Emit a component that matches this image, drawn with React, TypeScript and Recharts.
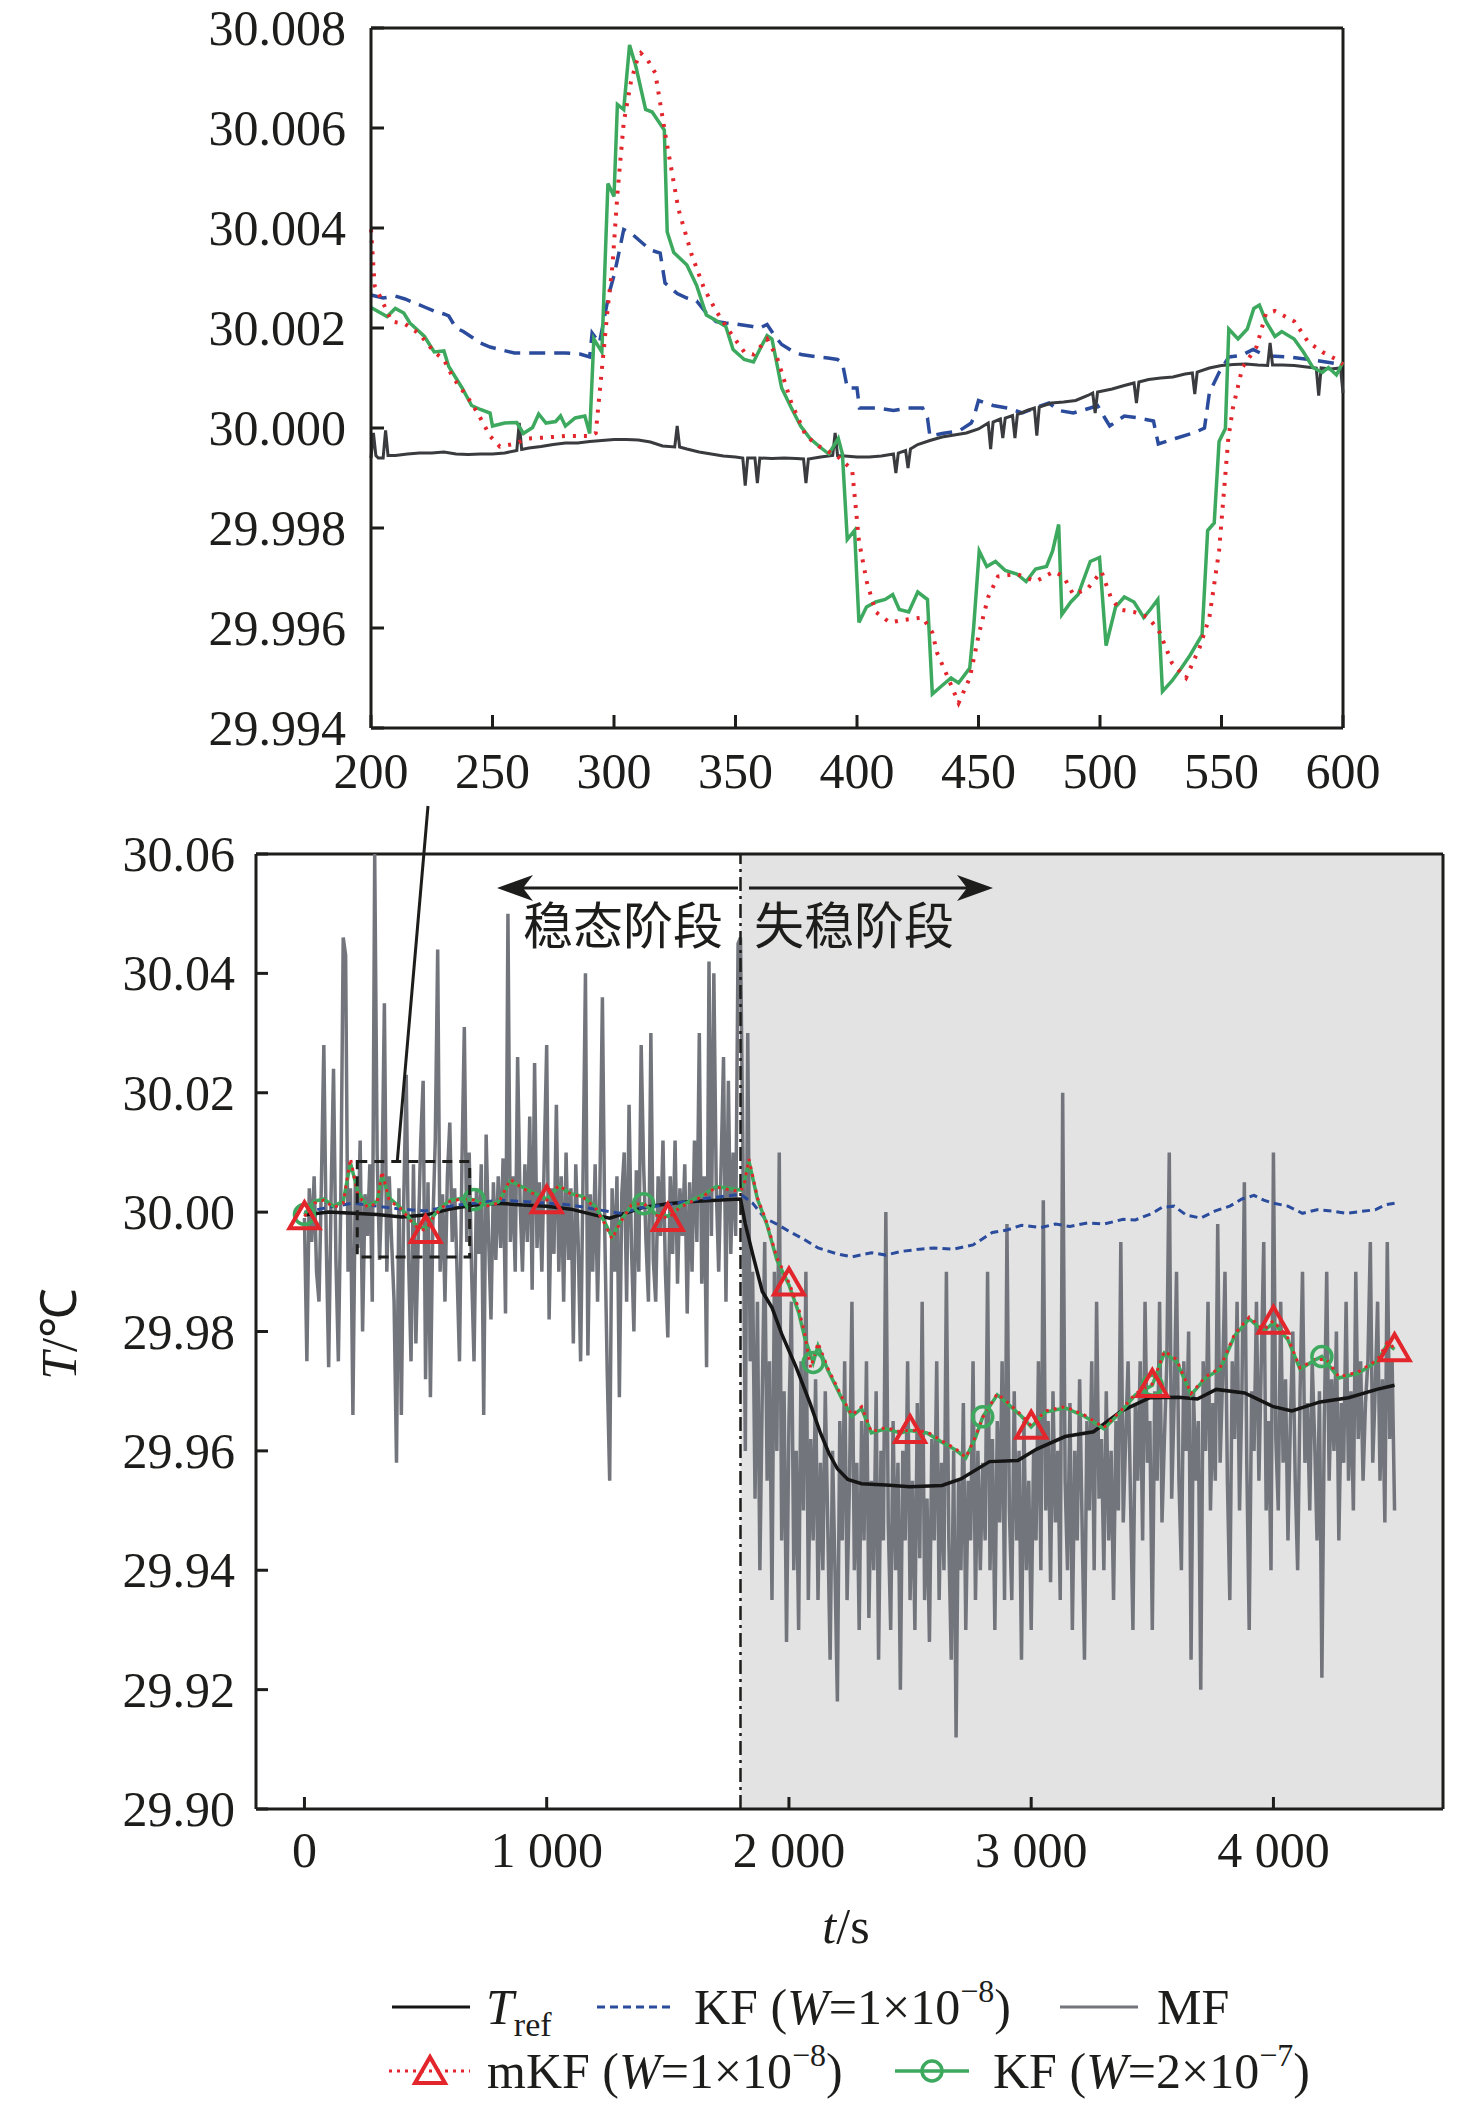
import React from "react";
import { ComposedChart, Line, XAxis, YAxis, ReferenceLine, ReferenceArea } from "recharts";

const SERIF = '"Liberation Serif", "Times New Roman", serif';
const CJK = '"Noto Sans CJK SC", sans-serif';
const INK = "#1d1d1b";
const RED = "#e2262c";
const GREEN = "#3da95e";
const BLUE = "#2b4c9c";
const GRAY = "#72757c";

// ---------- inset: 200–600 s ----------
const insetTicksX = [200, 250, 300, 350, 400, 450, 500, 550, 600];
const insetTicksY = [29.994, 29.996, 29.998, 30.0, 30.002, 30.004, 30.006, 30.008];

const insetTref: [number, number][] = [
  [200, 29.9994], [201, 29.9999], [202, 29.99945], [203, 29.9994], [205, 29.9994], [206, 29.99995],
  [207, 29.99945], [210, 29.99945], [215, 29.99948], [220, 29.9995], [225, 29.9995], [230, 29.99952],
  [235, 29.99948], [240, 29.99947], [245, 29.99948], [250, 29.99948], [255, 29.9995], [260, 29.99955],
  [261, 30.0001], [262, 29.99957], [265, 29.9996], [270, 29.99963], [275, 29.99967], [280, 29.9997],
  [285, 29.9997], [290, 29.99973], [295, 29.99975], [300, 29.99977], [305, 29.99977], [310, 29.99976],
  [315, 29.99972], [320, 29.99964], [325, 29.99962], [326, 30.00004], [327, 29.99962], [330, 29.99958],
  [335, 29.99952], [340, 29.99948], [345, 29.99944], [350, 29.99942], [353, 29.9994], [354, 29.99885],
  [355, 29.9994], [358, 29.9994], [359, 29.9989], [360, 29.9994], [365, 29.99939], [370, 29.9994],
  [375, 29.99939], [378, 29.99938], [379, 29.9989], [380, 29.99938], [385, 29.99942], [390, 29.99945],
  [391, 29.9999], [392, 29.99945], [395, 29.99944], [400, 29.99942], [405, 29.99942], [410, 29.99944],
  [415, 29.99948], [416, 29.9991], [417, 29.9995], [420, 29.99955], [421, 29.9992], [422, 29.99958],
  [425, 29.99967], [430, 29.99975], [435, 29.99982], [440, 29.99986], [445, 29.9999], [450, 29.99998],
  [454, 30.0001], [455, 29.99958], [456, 30.00012], [459, 30.00018], [460, 29.9998], [461, 30.0002],
  [464, 30.00025], [465, 29.9998], [466, 30.00027], [470, 30.00035], [473, 30.0004], [474, 29.99985],
  [475, 30.00042], [480, 30.0005], [485, 30.00052], [490, 30.00055], [495, 30.00065], [497, 30.0007],
  [498, 30.0003], [499, 30.00072], [505, 30.00078], [510, 30.00085], [514, 30.0009], [515, 30.0005],
  [516, 30.00092], [520, 30.00097], [525, 30.001], [530, 30.00102], [535, 30.00108], [538, 30.0011],
  [539, 30.00068], [540, 30.00112], [545, 30.0012], [550, 30.00125], [555, 30.00127], [560, 30.00128],
  [565, 30.00126], [569, 30.00125], [570, 30.0017], [571, 30.00126], [575, 30.00126], [580, 30.00125],
  [585, 30.00122], [589, 30.0012], [590, 30.00065], [591, 30.0012], [595, 30.00118], [599, 30.0012],
  [600, 30.0007],
];

const insetKf: [number, number][] = [
  [200, 30.00266], [205, 30.0026], [210, 30.00264], [214, 30.00258], [218, 30.0025], [222, 30.00242],
  [226, 30.00234], [230, 30.00228], [232, 30.00224], [235, 30.002], [238, 30.00193], [242, 30.0018],
  [245, 30.0017], [249, 30.00162], [253, 30.00157], [259, 30.0015], [265, 30.0015], [272, 30.0015],
  [280, 30.0015], [286, 30.00148], [290, 30.00142], [291, 30.0019], [294, 30.0017], [296, 30.0022],
  [298, 30.0027], [300, 30.00305], [302, 30.0035], [304, 30.00397], [307, 30.0039], [310, 30.00377],
  [315, 30.00356], [319, 30.0035], [321, 30.0029], [326, 30.00269], [330, 30.0026], [334, 30.00254],
  [338, 30.0023], [342, 30.00213], [346, 30.0021], [350, 30.00208], [357, 30.00203], [360, 30.002],
  [363, 30.00207], [366, 30.00185], [369, 30.00167], [373, 30.00155], [377, 30.00147], [384, 30.00142],
  [388, 30.0014], [392, 30.00137], [394, 30.0013], [396, 30.0008], [400, 30.0008], [401, 30.0004],
  [408, 30.0004], [415, 30.00035], [421, 30.0004], [427, 30.0004], [429, 30.0002], [430, 29.99984],
  [435, 29.99989], [442, 29.99994], [447, 30.0001], [448, 30.0002], [450, 30.00055], [456, 30.00045],
  [462, 30.0004], [468, 30.0003], [473, 30.0004], [479, 30.0005], [483, 30.00035], [489, 30.0003],
  [496, 30.0004], [499, 30.00045], [502, 30.0002], [504, 30.00004], [510, 30.00024], [516, 30.0002],
  [522, 30.00014], [524, 29.99968], [531, 29.99979], [539, 29.99991], [543, 30.0], [545, 30.0007],
  [549, 30.00111], [553, 30.00142], [558, 30.00145], [563, 30.00157], [566, 30.0015], [570, 30.00144],
  [578, 30.00142], [586, 30.00137], [593, 30.00132], [600, 30.00127],
];

const insetKf2: [number, number][] = [
  [200, 30.00241], [206.6, 30.00223], [210, 30.00239], [213.5, 30.0023], [216, 30.0021], [222, 30.00183],
  [226, 30.00152], [230, 30.00154], [232, 30.00123], [237.5, 30.0008], [241.4, 30.00045], [245, 30.00037],
  [249, 30.0003], [250, 30.00004], [255, 30.0001], [260, 30.00011], [262.7, 29.99989], [266.5, 30.00001],
  [269, 30.00028], [272, 30.0001], [276, 30.00013], [278, 30.00024], [280, 30.00004], [284, 30.0002],
  [288, 30.00024], [290, 29.99989], [291.7, 30.00178], [295, 30.00152], [297.5, 30.00489], [300, 30.00463],
  [301.4, 30.00647], [304, 30.00637], [306.4, 30.00766], [309, 30.00723], [313, 30.00637], [315.7, 30.00632],
  [320.7, 30.00596], [321.9, 30.00392], [324.6, 30.00351], [330, 30.00326], [334, 30.00285], [338, 30.00226],
  [342, 30.00215], [346, 30.00203], [349, 30.00157], [353.6, 30.00137], [357.4, 30.00132], [360.5, 30.00162],
  [363, 30.00185], [365, 30.00178], [369, 30.0008], [373, 30.0004], [376.8, 30.00004], [380.7, 29.99979],
  [384.5, 29.99963], [388.4, 29.99948], [392.3, 29.99979], [394, 29.99948], [396, 29.99777], [399, 29.99795],
  [400.8, 29.99611], [403.9, 29.99642], [407.7, 29.99652], [411.6, 29.99657], [414.7, 29.99667], [417.4, 29.99637],
  [421.3, 29.99632], [425, 29.99672], [429, 29.99657], [431, 29.99468], [434.8, 29.99484], [438.7, 29.995],
  [441.8, 29.9949], [446.4, 29.9952], [448, 29.99601], [450.3, 29.99754], [453.4, 29.99723], [457, 29.99733],
  [461, 29.99715], [465.8, 29.99708], [469.6, 29.99693], [473.5, 29.99718], [478, 29.99723], [480.5, 29.99754],
  [483, 29.99807], [484.3, 29.99627], [488, 29.99652], [491, 29.99667], [496, 29.99733], [499.8, 29.99741],
  [502.5, 29.99565], [506.4, 29.99642], [510, 29.99662], [514, 29.99652], [518, 29.99621], [520.7, 29.99637],
  [523.8, 29.99657], [525.7, 29.99473], [529.6, 29.99494], [533.5, 29.9952], [537, 29.99545], [542, 29.99586],
  [544.3, 29.99795], [547, 29.9981], [549, 29.99973], [551.6, 29.99999], [553, 30.00198], [556.8, 30.00178],
  [560.6, 30.00198], [563.3, 30.00239], [565.6, 30.00246], [568.3, 30.00213], [572, 30.00183], [574.8, 30.00193],
  [579.9, 30.00178], [583.7, 30.00152], [587.6, 30.00121], [591.5, 30.00111], [594, 30.00121], [597.3, 30.00106],
  [600, 30.00132],
];

const insetMkf: [number, number][] = [
  [200, 30.00397], [201.5, 30.00285], [204.6, 30.00254], [208.5, 30.00213], [214, 30.00208], [220, 30.00188],
  [226, 30.00152], [230, 30.00137], [233.7, 30.00101], [237.5, 30.00076], [241.4, 30.0005], [245, 30.0002],
  [249, 29.99984], [253, 29.99963], [258.8, 29.99968], [264.6, 29.99979], [272, 29.99981], [280, 29.99984],
  [287.8, 29.99984], [290, 29.99984], [292.5, 29.9999], [295.5, 30.00142], [297.5, 30.00244], [299.4, 30.00326],
  [301.4, 30.00468], [304, 30.00611], [307, 30.00693], [310, 30.00744], [311, 30.0075], [314, 30.00735],
  [317, 30.0071], [321, 30.0059], [326.5, 30.00438], [332, 30.00346], [337, 30.0028], [342, 30.00234],
  [348, 30.0019], [353.6, 30.00152], [357.4, 30.00147], [363, 30.00178], [367, 30.00142], [373, 30.0005],
  [379, 29.99984], [384.5, 29.99963], [392, 29.99943], [398, 29.99917], [400.8, 29.99774], [404, 29.99693],
  [407.7, 29.99632], [413.5, 29.99611], [419, 29.99616], [427, 29.99621], [431, 29.99591], [433, 29.9955],
  [436.7, 29.99509], [441.8, 29.9945], [446.4, 29.995], [450.3, 29.99591], [454, 29.99662], [458, 29.99703],
  [465.8, 29.99708], [473.5, 29.99693], [481, 29.99713], [485, 29.99703], [489, 29.99667], [494.8, 29.99678],
  [500.6, 29.99713], [504.4, 29.99662], [508, 29.99637], [514, 29.99632], [520, 29.99621], [524.6, 29.99591],
  [529.6, 29.9953], [535.4, 29.995], [541, 29.99561], [545, 29.99621], [549, 29.99754], [552.8, 29.99979],
  [554.7, 30.0004], [558.6, 30.00121], [564.4, 30.00162], [568.3, 30.00229], [572, 30.00234], [580, 30.00213],
  [585.7, 30.00172], [591.5, 30.00152], [597.3, 30.00137], [600, 30.00127],
];

// ---------- main chart: 0–4500 s ----------
const mainTicksX = [0, 1000, 2000, 3000, 4000];
const mainTicksY = [29.9, 29.92, 29.94, 29.96, 29.98, 30.0, 30.02, 30.04, 30.06];
const mainTickLabels = ["0", "1 000", "2 000", "3 000", "4 000"];
const mainDomainX = [-200, 4700];
const mainDomainY = [29.9, 30.06];
// zoom box drawn on the main chart (s, °C)
const zoomBox = { t1: 218, t2: 682, v1: 29.9925, v2: 30.0085 };

// MF, one value every 10 s from 0 to 4500 s
const mfStep = 10;
const mfValues = [
  29.999, 29.975, 30.004, 29.995, 30.006, 29.99, 29.985, 30.005, 30.028, 29.995,
  29.974, 30.003, 30.024, 29.992, 29.975, 30.002, 30.046, 30.043, 29.99, 30.004,
  29.966, 30.005, 29.994, 30.012, 29.98, 30.003, 29.996, 30.008, 29.985, 30.06,
  30.01, 29.992, 30.004, 30.035, 29.99, 30.006, 29.995, 29.985, 29.958, 30.004,
  29.966, 30.002, 30.023, 29.992, 29.975, 30.008, 29.978, 29.996, 30.012, 30.022,
  29.972, 30.005, 29.969, 29.998, 30.012, 30.044, 29.99, 30.003, 29.985, 30.006,
  30.015, 29.995, 30.004, 29.99, 29.975, 30.008, 30.031, 29.995, 30.01, 29.99,
  29.975, 30.004, 29.993, 30.008, 29.966, 30.013, 29.996, 29.982, 30.005, 29.992,
  30.006, 29.994, 30.009, 29.983, 30.05, 29.995, 30.006, 29.99, 30.026, 30.002,
  29.99, 30.008, 29.995, 30.016, 29.987, 30.025, 29.994, 30.005, 29.99, 30.009,
  30.028, 29.982, 30.004, 29.993, 30.018, 29.99, 30.006, 29.985, 30.01, 29.992,
  30.004, 29.978, 30.008, 29.995, 29.975, 30.006, 30.04, 29.976, 30.003, 29.99,
  30.008, 29.985, 30.005, 30.036, 29.996, 29.973, 29.955, 30.004, 29.99, 30.006,
  29.969, 30.003, 30.01, 29.985, 30.018, 29.994, 29.98, 30.007, 29.99, 30.028,
  30.008, 29.995, 29.985, 30.03, 29.992, 29.985, 30.006, 29.996, 30.012, 29.99,
  29.979, 30.006, 29.993, 30.012, 29.988, 30.004, 29.996, 30.008, 29.983, 30.005,
  29.99, 30.012, 29.995, 30.03, 29.988, 30.006, 29.974, 30.042, 29.996, 30.04,
  30.004, 29.99, 30.008, 30.026, 29.985, 30.022, 29.993, 30.01, 29.996, 30.045,
  30.046,
  30.01, 29.96, 30.03, 29.975, 29.99, 29.952, 29.985, 29.94, 29.97, 29.995,
  29.955, 29.975, 29.935, 29.99, 29.96, 30.01, 29.945, 29.97, 29.928, 29.965,
  29.985, 29.94, 29.96, 29.93, 29.975, 29.95, 29.99, 29.935, 29.962, 29.945,
  29.972, 29.935, 29.958, 29.94, 29.97, 29.948, 29.925, 29.96, 29.94, 29.918,
  29.965, 29.945, 29.975, 29.935, 29.955, 29.985, 29.94, 29.958, 29.93, 29.965,
  29.945, 29.975, 29.932, 29.955, 29.94, 29.97, 29.925, 29.96, 29.945, 30.0,
  29.948, 29.93, 29.965, 29.94, 29.958, 29.92, 29.96, 29.945, 29.975, 29.935,
  29.955, 29.93, 29.968, 29.942, 29.985, 29.935, 29.952, 29.928, 29.962, 29.945,
  29.975, 29.935, 29.958, 29.94, 29.99, 29.945, 29.925, 29.96, 29.912, 29.955,
  29.94, 29.968, 29.93, 29.955, 29.945, 29.975, 29.935, 29.96, 29.94, 29.958,
  29.945, 29.99, 29.94, 29.962, 29.93, 29.965, 29.948, 29.975, 29.935, 29.998,
  29.95, 29.935, 29.97, 29.945, 29.96, 29.925, 29.965, 29.94, 29.955, 29.93,
  29.96, 29.945, 29.975, 29.94, 30.002, 29.95, 29.965, 29.938, 29.97, 29.948,
  29.96, 29.935, 30.02, 29.955, 29.94, 29.968, 29.93, 29.96, 29.945, 29.972,
  29.948, 29.925, 29.965, 29.95, 29.975, 29.94, 29.985, 29.952, 29.962, 29.94,
  29.97, 29.945, 29.96, 29.935, 29.965, 29.95, 29.995, 29.948, 29.962, 29.975,
  29.952, 29.93, 29.968, 29.955, 29.975, 29.945, 29.985, 29.958, 29.965, 29.93,
  29.97, 29.955, 29.985, 29.948, 29.962, 29.975, 30.01, 29.952, 29.968, 29.99,
  29.955, 29.94, 29.975, 29.96, 29.98, 29.925, 29.97, 29.955, 29.965, 29.92,
  29.975, 29.96, 29.985, 29.95, 29.968, 29.955, 29.998, 29.958, 29.972, 29.99,
  29.955, 29.935, 29.975, 29.962, 29.985, 29.95, 29.97, 30.005, 29.958, 29.93,
  29.97, 29.96, 29.985, 29.955, 29.975, 29.995, 29.95, 29.965, 29.94, 30.01,
  29.962, 29.95, 29.985, 29.958, 29.972, 29.945, 29.965, 29.98, 29.955, 29.94,
  29.97, 29.99, 29.958, 29.968, 29.95, 29.975, 29.962, 29.945, 29.97, 29.922,
  29.965, 29.99, 29.955, 29.972, 29.96, 29.98, 29.945, 29.968, 29.958, 29.985,
  29.955, 29.97, 29.95, 29.99, 29.962, 29.975, 29.955, 29.968, 29.975, 29.995,
  29.958, 29.97, 29.985, 29.955, 29.972, 29.948, 29.995, 29.962, 29.975, 29.95,
];

const mainTref: [number, number][] = [
  [0, 29.9995], [100, 30.0], [200, 29.9998], [300, 29.9996], [400, 29.9992], [500, 29.9995],
  [600, 30.0005], [700, 30.0012], [800, 30.0015], [900, 30.0012], [1000, 30.001], [1100, 30.0005],
  [1200, 29.9995], [1260, 29.999], [1300, 29.9995], [1400, 30.0008], [1500, 30.0014], [1600, 30.0018],
  [1700, 30.002], [1800, 30.0022], [1820, 29.998], [1850, 29.993], [1890, 29.9867], [1930, 29.984],
  [1970, 29.9796], [2030, 29.974], [2087, 29.968], [2130, 29.963], [2165, 29.9596], [2200, 29.957],
  [2243, 29.9552], [2300, 29.9545], [2400, 29.9543], [2500, 29.954], [2632, 29.9542], [2710, 29.9553],
  [2828, 29.9582], [2945, 29.9584], [3023, 29.9603], [3140, 29.9624], [3257, 29.9632], [3374, 29.9667],
  [3490, 29.9689], [3608, 29.969], [3686, 29.9687], [3764, 29.9703], [3881, 29.9697], [4000, 29.9674],
  [4076, 29.9667], [4193, 29.9682], [4310, 29.9689], [4427, 29.9703], [4500, 29.971],
];

const mainKf: [number, number][] = [
  [0, 30.0], [100, 30.0008], [200, 30.0015], [300, 30.001], [400, 30.0005], [500, 30.0002],
  [600, 30.001], [700, 30.0015], [800, 30.002], [900, 30.0018], [1000, 30.0015], [1100, 30.0012],
  [1200, 30.0005], [1300, 29.9998], [1400, 30.0008], [1500, 30.0012], [1600, 30.002], [1700, 30.0025],
  [1800, 30.003], [1850, 30.0015], [1900, 29.999], [1950, 29.998], [2000, 29.9968], [2060, 29.9955],
  [2120, 29.994], [2200, 29.993], [2260, 29.9925], [2340, 29.9932], [2400, 29.9928], [2460, 29.9934],
  [2540, 29.9938], [2600, 29.994], [2680, 29.9938], [2760, 29.9945], [2840, 29.9966], [2900, 29.997],
  [2960, 29.9978], [3040, 29.9974], [3100, 29.998], [3160, 29.9976], [3235, 29.9982], [3300, 29.998],
  [3380, 29.9988], [3430, 29.9987], [3500, 29.9998], [3540, 30.0008], [3590, 30.001], [3640, 29.9995],
  [3700, 29.999], [3760, 30.0002], [3820, 30.001], [3870, 30.0022], [3920, 30.0028], [3960, 30.002],
  [4000, 30.0015], [4060, 30.001], [4120, 29.9998], [4180, 30.0004], [4240, 30.0002], [4300, 29.9998],
  [4360, 30.0001], [4420, 30.0004], [4460, 30.0012], [4500, 30.0015],
];

const mainMkf: [number, number][] = [
  [0, 29.9993], [40, 30.0015], [80, 30.002], [120, 30.0008], [160, 30.0015], [190, 30.009],
  [220, 30.003], [260, 30.0008], [300, 30.0015], [320, 30.0068], [350, 30.002], [400, 30.0005],
  [440, 29.9985], [470, 29.9972], [500, 29.997], [530, 29.999], [560, 30.0005], [600, 30.0018],
  [650, 30.0022], [700, 30.002], [750, 30.001], [800, 30.0015], [850, 30.0055], [900, 30.004],
  [950, 30.003], [1000, 30.002], [1050, 30.0045], [1100, 30.003], [1150, 30.0025], [1200, 30.0008],
  [1240, 29.998], [1270, 29.9955], [1300, 29.998], [1350, 30.0012], [1400, 30.0015], [1450, 29.9995],
  [1500, 29.999], [1550, 30.0008], [1600, 30.0018], [1650, 30.0028], [1700, 30.0042], [1750, 30.0038],
  [1800, 30.0035], [1815, 30.0046], [1835, 30.0089], [1870, 30.0024], [1910, 29.9981], [1950, 29.9924],
  [2000, 29.9882], [2040, 29.9839], [2065, 29.9796], [2090, 29.9739], [2120, 29.9781], [2160, 29.9739],
  [2220, 29.9689], [2260, 29.966], [2300, 29.9674], [2340, 29.9632], [2400, 29.9639], [2460, 29.9632],
  [2500, 29.9635], [2570, 29.9632], [2630, 29.9617], [2690, 29.9603], [2730, 29.9589], [2770, 29.9624],
  [2800, 29.9656], [2860, 29.9696], [2900, 29.9682], [2960, 29.966], [3000, 29.9642], [3060, 29.9667],
  [3140, 29.9674], [3220, 29.966], [3300, 29.9639], [3370, 29.9667], [3430, 29.9696], [3500, 29.9712],
  [3550, 29.9767], [3600, 29.9753], [3660, 29.9696], [3720, 29.9724], [3780, 29.9739], [3840, 29.9796],
  [3900, 29.9824], [3960, 29.9803], [4000, 29.9818], [4060, 29.9789], [4110, 29.9739], [4170, 29.9753],
  [4220, 29.9753], [4270, 29.9724], [4350, 29.9732], [4430, 29.9753], [4470, 29.9782], [4500, 29.9772],
];

const mainKf2: [number, number][] = [
  [0, 29.9996], [40, 30.0018], [80, 30.0022], [120, 30.001], [160, 30.0018], [190, 30.0082],
  [220, 30.0035], [260, 30.001], [300, 30.0018], [320, 30.0062], [350, 30.0024], [400, 30.0006],
  [440, 29.9987], [470, 29.9975], [500, 29.9973], [530, 29.9992], [560, 30.0007], [600, 30.002],
  [650, 30.0023], [700, 30.0021], [750, 30.0012], [800, 30.0017], [850, 30.0052], [900, 30.0042],
  [950, 30.0032], [1000, 30.0022], [1050, 30.0043], [1100, 30.0031], [1150, 30.0026], [1200, 30.001],
  [1240, 29.9983], [1270, 29.9958], [1300, 29.9982], [1350, 30.0012], [1400, 30.0014], [1450, 29.9997],
  [1500, 29.9993], [1550, 30.001], [1600, 30.002], [1650, 30.003], [1700, 30.0043], [1750, 30.004],
  [1800, 30.0037], [1815, 30.005], [1835, 30.0085], [1870, 30.0022], [1910, 29.9978], [1950, 29.992],
  [2000, 29.9878], [2040, 29.9832], [2065, 29.979], [2100, 29.9748], [2120, 29.9776], [2160, 29.9736],
  [2220, 29.9686], [2260, 29.9658], [2300, 29.9671], [2340, 29.963], [2400, 29.9637], [2460, 29.963],
  [2500, 29.9634], [2570, 29.963], [2630, 29.9615], [2690, 29.9601], [2730, 29.9588], [2770, 29.9622],
  [2800, 29.9657], [2860, 29.9694], [2900, 29.968], [2960, 29.9658], [3000, 29.964], [3060, 29.9665],
  [3140, 29.9672], [3220, 29.9658], [3300, 29.9637], [3370, 29.9665], [3430, 29.9694], [3500, 29.971],
  [3550, 29.9764], [3600, 29.975], [3660, 29.9694], [3720, 29.9722], [3780, 29.9737], [3840, 29.9793],
  [3900, 29.9821], [3960, 29.98], [4000, 29.9815], [4060, 29.9786], [4110, 29.9737], [4170, 29.9752],
  [4200, 29.9758], [4270, 29.9722], [4350, 29.973], [4430, 29.975], [4470, 29.9779], [4500, 29.977],
];

const triangleTimes = [0, 500, 1000, 1500, 2000, 2500, 3000, 3500, 4000, 4500];
const circleTimes = [0, 700, 1400, 2100, 2800, 3500, 4200];

const toRows = (pairs: [number, number][]) => pairs.map(([t, v]) => ({ t, v }));
const mfData = mfValues.map((v, i) => ({ t: i * mfStep, v }));

// main chart frame in page pixels (chart placed at top 780)
const MAIN_TOP = 780;
const mainMargin = { top: 74, right: 33, bottom: 111, left: 136 };
const Y_AXIS_W = 120;
const X_AXIS_H = 60;
const MAIN_W = 1476;
const MAIN_H = 1200;
const plotL = mainMargin.left + Y_AXIS_W;
const plotR = MAIN_W - mainMargin.right;
const plotT = MAIN_TOP + mainMargin.top;
const plotB = MAIN_TOP + MAIN_H - mainMargin.bottom - X_AXIS_H;
const sx = (t: number) => plotL + ((t - mainDomainX[0]) / (mainDomainX[1] - mainDomainX[0])) * (plotR - plotL);
const sy = (v: number) => plotB - ((v - mainDomainY[0]) / (mainDomainY[1] - mainDomainY[0])) * (plotB - plotT);

// inward ticks, labels outside
const makeXTick = (len: number, dy: number, fmt: (v: number) => string) => (props: any) => {
  const { x, y, payload, index } = props;
  return (
    <g key={`xt${index}`}>
      <line x1={x} y1={y} x2={x} y2={y - len} stroke={INK} strokeWidth={3} />
      <text x={x} y={y + dy} textAnchor="middle" fontFamily={SERIF} fontSize={50} fill={INK}>
        {fmt(payload.value)}
      </text>
    </g>
  );
};

const makeYTick = (len: number, gap: number, digits: number) => (props: any) => {
  const { x, y, payload, index } = props;
  return (
    <g key={`yt${index}`}>
      <line x1={x} y1={y} x2={x + len} y2={y} stroke={INK} strokeWidth={3} />
      <text x={x - gap} y={y + 17} textAnchor="end" fontFamily={SERIF} fontSize={50} fill={INK}>
        {Number(payload.value).toFixed(digits)}
      </text>
    </g>
  );
};

const triangleDot = (props: any) => {
  const { cx, cy, payload, index } = props;
  if (cx == null || !triangleTimes.includes(payload.t)) return <g key={`tri${index}`} />;
  return (
    <polygon
      key={`tri${index}`}
      points={`${cx},${cy - 14} ${cx + 15},${cy + 12} ${cx - 15},${cy + 12}`}
      fill="none"
      stroke={RED}
      strokeWidth={4}
    />
  );
};

const circleDot = (props: any) => {
  const { cx, cy, payload, index } = props;
  if (cx == null || !circleTimes.includes(payload.t)) return <g key={`cir${index}`} />;
  return <circle key={`cir${index}`} cx={cx} cy={cy} r={10} fill="none" stroke={GREEN} strokeWidth={3.5} />;
};

function Inset() {
  return (
    <ComposedChart width={1476} height={830} margin={{ top: 28, right: 133, bottom: 42, left: 251 }}>
      <XAxis
        dataKey="t"
        type="number"
        domain={[200, 600]}
        ticks={insetTicksX}
        interval={0}
        height={X_AXIS_H}
        tickSize={0}
        tickMargin={0}
        tickLine={false}
        axisLine={{ stroke: INK, strokeWidth: 3 }}
        tick={makeXTick(13, 60, (v) => String(v))}
      />
      <YAxis
        type="number"
        domain={[29.994, 30.008]}
        ticks={insetTicksY}
        interval={0}
        width={Y_AXIS_W}
        tickSize={0}
        tickMargin={0}
        tickLine={false}
        axisLine={{ stroke: INK, strokeWidth: 3 }}
        tick={makeYTick(13, 25, 3)}
      />
      <ReferenceLine y={30.008} stroke={INK} strokeWidth={3} />
      <ReferenceLine x={600} stroke={INK} strokeWidth={3} />
      <Line data={toRows(insetKf)} dataKey="v" stroke={BLUE} strokeWidth={3.5} strokeDasharray="16 9" dot={false} isAnimationActive={false} />
      <Line data={toRows(insetTref)} dataKey="v" stroke="#3a3b3f" strokeWidth={3} dot={false} isAnimationActive={false} />
      <Line data={toRows(insetKf2)} dataKey="v" stroke={GREEN} strokeWidth={3.5} dot={false} isAnimationActive={false} />
      <Line data={toRows(insetMkf)} dataKey="v" stroke={RED} strokeWidth={4} strokeDasharray="3 8" dot={false} isAnimationActive={false} />
    </ComposedChart>
  );
}

function MainChart() {
  return (
    <ComposedChart width={MAIN_W} height={MAIN_H} margin={mainMargin}>
      <XAxis
        dataKey="t"
        type="number"
        domain={mainDomainX}
        ticks={mainTicksX}
        interval={0}
        height={X_AXIS_H}
        tickSize={0}
        tickMargin={0}
        tickLine={false}
        axisLine={{ stroke: INK, strokeWidth: 3 }}
        tick={makeXTick(12, 58, (v) => mainTickLabels[mainTicksX.indexOf(v)])}
      />
      <YAxis
        type="number"
        domain={mainDomainY}
        ticks={mainTicksY}
        interval={0}
        width={Y_AXIS_W}
        tickSize={0}
        tickMargin={0}
        tickLine={false}
        axisLine={{ stroke: INK, strokeWidth: 3 }}
        tick={makeYTick(12, 21, 2)}
      />
      <ReferenceArea x1={1800} x2={4700} y1={29.9} y2={30.06} fill="#e3e3e4" fillOpacity={1} stroke="none" />
      <ReferenceLine y={30.06} stroke={INK} strokeWidth={3} />
      <ReferenceLine x={4700} stroke={INK} strokeWidth={3} />
      <Line data={mfData} dataKey="v" stroke={GRAY} strokeWidth={3.5} dot={false} isAnimationActive={false} />
      <Line data={toRows(mainTref)} dataKey="v" stroke="#151515" strokeWidth={3.5} dot={false} isAnimationActive={false} />
      <Line data={toRows(mainKf)} dataKey="v" stroke={BLUE} strokeWidth={3} strokeDasharray="8 5" dot={false} isAnimationActive={false} />
      <Line data={toRows(mainKf2)} dataKey="v" stroke={GREEN} strokeWidth={3.5} dot={circleDot} activeDot={false} isAnimationActive={false} />
      <Line data={toRows(mainMkf)} dataKey="v" stroke={RED} strokeWidth={3} strokeDasharray="3 5" dot={triangleDot} activeDot={false} isAnimationActive={false} />
      <ReferenceLine x={1800} stroke={INK} strokeWidth={2.5} strokeDasharray="14 5 3 5" />
    </ComposedChart>
  );
}

function Sup({ children }: { children: React.ReactNode }) {
  return (
    <>
      <tspan fontSize={32} dy={-22}>{children}</tspan>
      <tspan dy={22}>)</tspan>
    </>
  );
}

function Overlay() {
  const txt = { fontFamily: SERIF, fontSize: 50, fill: INK };
  const bx = sx(zoomBox.t1);
  const by = sy(zoomBox.v2);
  const bw = sx(zoomBox.t2) - bx;
  const bh = sy(zoomBox.v1) - by;
  return (
    <svg width={1476} height={2110} style={{ position: "absolute", left: 0, top: 0, pointerEvents: "none" }}>
      {/* zoom box and connector to the inset */}
      <rect x={bx} y={by} width={bw} height={bh} fill="none" stroke={INK} strokeWidth={3} strokeDasharray="10 7" />
      <line x1={428} y1={806} x2={bx + 40} y2={by} stroke={INK} strokeWidth={3} />

      {/* stage arrows and labels */}
      <line x1={738} y1={888} x2={520} y2={888} stroke={INK} strokeWidth={3} />
      <polygon points="497,888 533,875 523,888 533,901" fill={INK} />
      <line x1={749} y1={888} x2={968} y2={888} stroke={INK} strokeWidth={3} />
      <polygon points="993,888 957,875 967,888 957,901" fill={INK} />
      <text x={523} y={944} fontFamily={CJK} fontSize={50} fill={INK}>稳态阶段</text>
      <text x={754} y={944} fontFamily={CJK} fontSize={50} fill={INK}>失稳阶段</text>

      {/* axis titles */}
      <text x={846} y={1943} textAnchor="middle" {...txt}>
        <tspan fontStyle="italic">t</tspan>/s
      </text>
      <text x={59} y={1351} textAnchor="middle" transform="rotate(-90 59 1334)" {...txt}>
        <tspan fontStyle="italic">T</tspan>/℃
      </text>

      {/* legend row 1 */}
      <line x1={392} y1={2007} x2={470} y2={2007} stroke="#151515" strokeWidth={3} />
      <text x={486} y={2024} {...txt}>
        <tspan fontStyle="italic">T</tspan>
        <tspan fontSize={34} dy={12}>ref</tspan>
      </text>
      <line x1={597} y1={2007} x2={671} y2={2007} stroke={BLUE} strokeWidth={3} strokeDasharray="8 5" />
      <text x={694} y={2024} {...txt}>
        KF (<tspan fontStyle="italic">W</tspan>=1×10<Sup>−8</Sup>
      </text>
      <line x1={1060} y1={2007} x2={1138} y2={2007} stroke={GRAY} strokeWidth={3} />
      <text x={1157} y={2024} {...txt}>MF</text>

      {/* legend row 2 */}
      <line x1={389} y1={2071} x2={470} y2={2071} stroke={RED} strokeWidth={3} strokeDasharray="3 5" />
      <polygon points="430,2057 445,2083 415,2083" fill="none" stroke={RED} strokeWidth={4} />
      <text x={487} y={2088} {...txt}>
        mKF (<tspan fontStyle="italic">W</tspan>=1×10<Sup>−8</Sup>
      </text>
      <line x1={895} y1={2071} x2={969} y2={2071} stroke={GREEN} strokeWidth={3.5} />
      <circle cx={932} cy={2071} r={10} fill="none" stroke={GREEN} strokeWidth={3.5} />
      <text x={993} y={2088} {...txt}>
        KF (<tspan fontStyle="italic">W</tspan>=2×10<Sup>−7</Sup>
      </text>
    </svg>
  );
}

export default function App() {
  return (
    <div style={{ position: "absolute", left: 0, top: 0, width: 1476, height: 2110, background: "#fff", overflow: "hidden" }}>
      <div style={{ position: "absolute", left: 0, top: 0 }}>
        <Inset />
      </div>
      <div style={{ position: "absolute", left: 0, top: MAIN_TOP }}>
        <MainChart />
      </div>
      <Overlay />
    </div>
  );
}
